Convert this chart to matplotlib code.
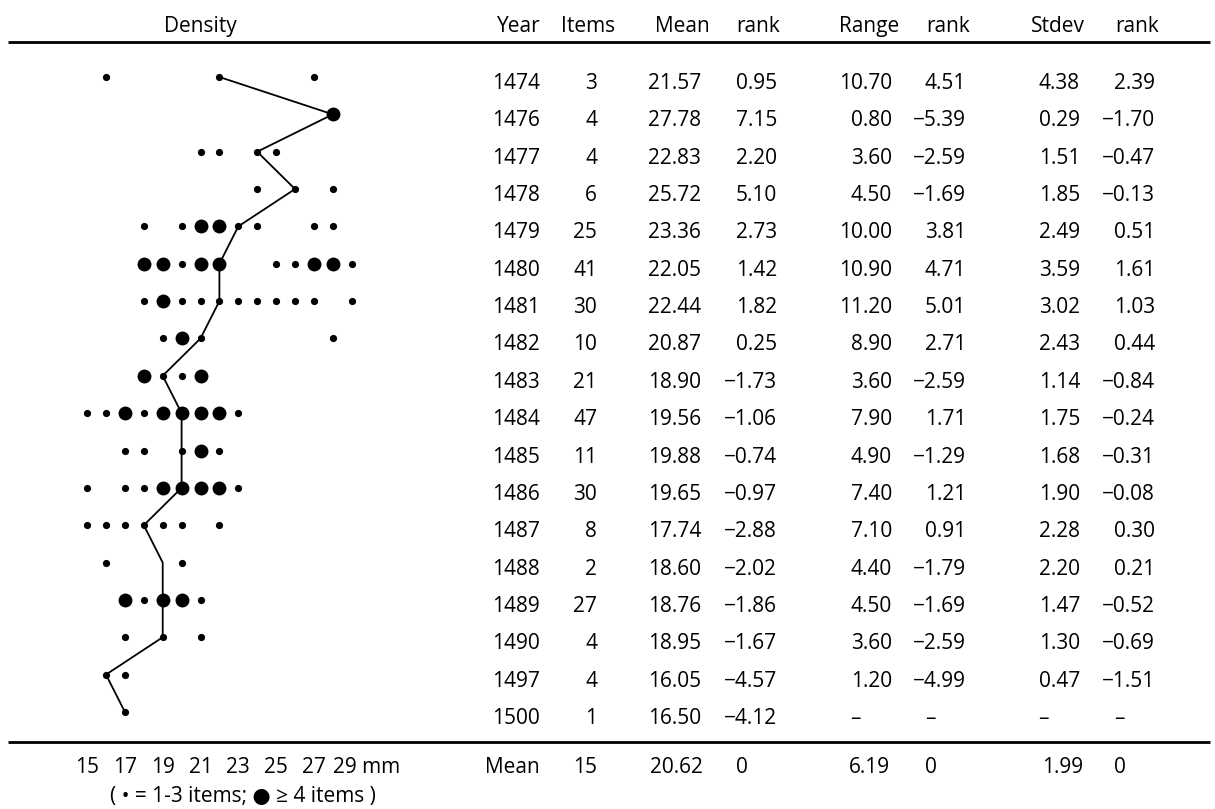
import matplotlib
matplotlib.use("Agg")
import matplotlib.pyplot as plt
from matplotlib.transforms import blended_transform_factory

# ---------------- data ----------------
years = [1474, 1476, 1477, 1478, 1479, 1480, 1481, 1482, 1483, 1484,
         1485, 1486, 1487, 1488, 1489, 1490, 1497, 1500]
items = [3, 4, 4, 6, 25, 41, 30, 10, 21, 47, 11, 30, 8, 2, 27, 4, 4, 1]
mean = [21.57, 27.78, 22.83, 25.72, 23.36, 22.05, 22.44, 20.87, 18.90, 19.56,
        19.88, 19.65, 17.74, 18.60, 18.76, 18.95, 16.05, 16.50]
mean_rank = [0.95, 7.15, 2.20, 5.10, 2.73, 1.42, 1.82, 0.25, -1.73, -1.06,
             -0.74, -0.97, -2.88, -2.02, -1.86, -1.67, -4.57, -4.12]
range_mm = [10.70, 0.80, 3.60, 4.50, 10.00, 10.90, 11.20, 8.90, 3.60, 7.90,
            4.90, 7.40, 7.10, 4.40, 4.50, 3.60, 1.20, None]
range_rank = [4.51, -5.39, -2.59, -1.69, 3.81, 4.71, 5.01, 2.71, -2.59, 1.71,
              -1.29, 1.21, 0.91, -1.79, -1.69, -2.59, -4.99, None]
stdev = [4.38, 0.29, 1.51, 1.85, 2.49, 3.59, 3.02, 2.43, 1.14, 1.75,
         1.68, 1.90, 2.28, 2.20, 1.47, 1.30, 0.47, None]
stdev_rank = [2.39, -1.70, -0.47, -0.13, 0.51, 1.61, 1.03, 0.44, -0.84, -0.24,
              -0.31, -0.08, 0.30, 0.21, -0.52, -0.69, -1.51, None]

# density dots (mm) : small = 1-3 items, big = >= 4 items
small_dots = [
    [16, 22, 27], [], [21, 22, 24, 25], [24, 26, 28],
    [18, 20, 23, 24, 27, 28], [20, 25, 26, 29],
    [18, 20, 21, 22, 23, 24, 25, 26, 27, 29], [19, 21, 28], [19, 20],
    [15, 16, 18, 23], [17, 18, 20, 22], [15, 17, 18, 23],
    [15, 16, 17, 18, 19, 20, 22], [16, 20], [18, 21], [17, 19, 21],
    [16, 17], [17],
]
big_dots = [
    [], [28], [], [], [21, 22], [18, 19, 21, 22, 27, 28], [19], [20], [18, 21],
    [17, 19, 20, 21, 22], [21], [19, 20, 21, 22], [], [], [17, 19, 20], [],
    [], [],
]
mean_line = [22, 28, 24, 26, 23, 22, 22, 21, 19, 20, 20, 20, 18, 19, 19, 19, 16, 17]

tick_mm = [15, 17, 19, 21, 23, 25, 27]
summary = ["Mean", "15", "20.62", "0", "6.19", "0", "1.99", "0"]
headers = ["Year", "Items", "Mean", "rank", "Range", "rank", "Stdev", "rank"]

# ---------------- layout ----------------
W, H = 1215, 809
FONT = ["Open Sans", "DejaVu Sans"]
FS = 15
plt.rcParams["font.family"] = FONT

fig = plt.figure(figsize=(W / 100, H / 100), dpi=100)
ax = fig.add_axes([0, 0, 1, 1])
ax.axis("off")

x0_px, mm0, pxmm = 106, 16, 18.9
ax.set_xlim(mm0 - x0_px / pxmm, mm0 + (W - x0_px) / pxmm)
y0_px, row_px = 77, 37.35
ax.set_ylim((H - y0_px) / row_px, -y0_px / row_px)

def prow(py):
    return (py - y0_px) / row_px

tr = blended_transform_factory(fig.transFigure, ax.transData)
def fx(px):
    return px / W

rows = list(range(len(years)))

# dots
for r, (s, b) in enumerate(zip(small_dots, big_dots)):
    if s:
        ax.plot(s, [r] * len(s), "o", color="black", ms=5.2, mew=0, ls="none")
    if b:
        ax.plot(b, [r] * len(b), "o", color="black", ms=10, mew=0, ls="none")
ax.plot(mean_line, rows, color="black", lw=1.3, solid_joinstyle="miter")

# rules
for py in (41.7, 741.7):
    ax.plot([fx(8), fx(1210)], [prow(py)] * 2, color="black", lw=2.0,
            transform=tr, solid_capstyle="butt")

def fmt(v):
    if v is None:
        return None
    return f"{v:.2f}".replace("-", "\u2212")

# headers
hb = prow(31.7)
ax.text(fx(200), hb, "Density", ha="center", va="baseline", fontsize=FS, transform=tr)
hdr_x = [519, 588, 682, 758, 869, 948, 1058, 1137]
for h, x in zip(headers, hdr_x):
    ax.text(fx(x), hb, h, ha="center", va="baseline", fontsize=FS, transform=tr)

# table rows
col_right = [540, 597, 701, 777, 892, 966, 1080, 1155]
dash_left = [850, 925, 1038, 1114]
off = 12 / row_px
for r in rows:
    vals = [str(years[r]), str(items[r]), fmt(mean[r]), fmt(mean_rank[r]),
            fmt(range_mm[r]), fmt(range_rank[r]), fmt(stdev[r]), fmt(stdev_rank[r])]
    for j, (v, x) in enumerate(zip(vals, col_right)):
        if v is None:
            ax.text(fx(dash_left[j - 4]), r + off, "\u2013", ha="left", va="baseline",
                    fontsize=FS, transform=tr)
        else:
            ax.text(fx(x), r + off, v, ha="right", va="baseline", fontsize=FS, transform=tr)

# summary row
sb = prow(773)
sum_pos = [(540, "right"), (597, "right"), (703, "right"), (736, "left"),
           (890, "right"), (925, "left"), (1083, "right"), (1114, "left")]
for v, (x, ha) in zip(summary, sum_pos):
    ax.text(fx(x), sb, v, ha=ha, va="baseline", fontsize=FS, transform=tr)

# x-axis labels
for t in tick_mm:
    ax.text(t, sb, str(t), ha="center", va="baseline", fontsize=FS)
ax.text(mm0 + (333 - x0_px) / pxmm, sb, "29 mm", ha="left", va="baseline", fontsize=FS)

# legend line
ax.text(fx(110), prow(802), "( \u2022 = 1-3 items; \u25CF \u2265 4 items )",
        ha="left", va="baseline", fontsize=FS, transform=tr)

fig.savefig("out.png", dpi=100)
